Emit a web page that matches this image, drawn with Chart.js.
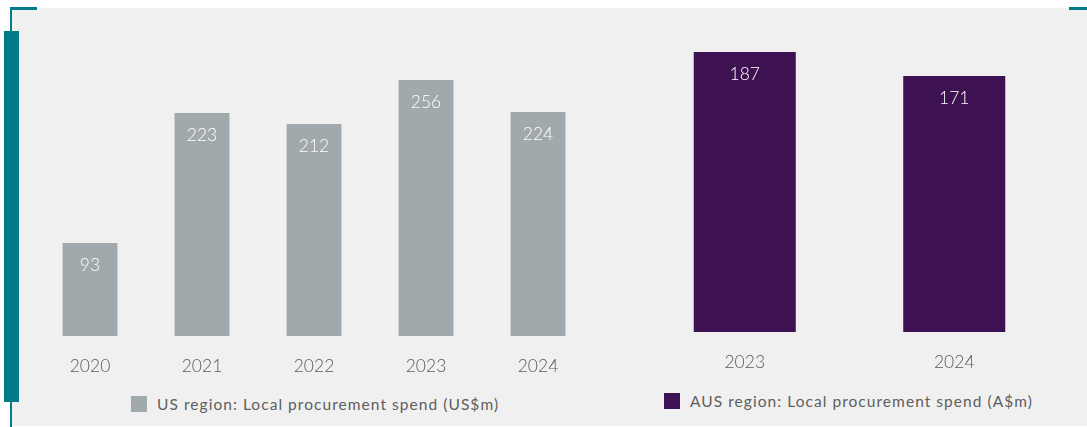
<!DOCTYPE html>
<html>
<head>
<meta charset="utf-8">
<script src="https://cdn.jsdelivr.net/npm/chart.js@4"></script>
<style>
  html, body { margin: 0; padding: 0; background: #fff; }
  body { width: 1087px; height: 427px; position: relative; overflow: hidden; font-family: 'Lato', sans-serif; }
  .panel { position: absolute; left: 11px; top: 8px; width: 1076px; height: 418px; background: #f0f0f0; }
  .teal { position: absolute; background: #007b87; }
  .box { position: absolute; }
  .leyenda { position: absolute; display: flex; align-items: center; font-size: 15.5px; font-weight: 400; color: #5e5e5e; letter-spacing: 1.05px; }
  .leyenda span.sq { width: 16px; height: 16px; margin-right: 10px; display: inline-block; }
</style>
</head>
<body>
<div class="panel"></div>
<div class="teal" style="left:10px; top:7px; width:27px; height:3px;"></div>
<div class="teal" style="left:1069px; top:7px; width:18px; height:3px;"></div>
<div class="teal" style="left:10px; top:8px; width:2px; height:419px;"></div>
<div class="teal" style="left:4px; top:31px; width:15px; height:371px;"></div>

<div class="box" style="left:34px; top:10px; width:560px; height:380px;"><canvas id="graficaUS"></canvas></div>
<div class="box" style="left:640px; top:10px; width:419px; height:376px;"><canvas id="graficaAUS"></canvas></div>

<div class="leyenda" style="left:131px; top:395px;"><span class="sq" style="background:#a2a9ad"></span>US region: Local procurement spend (US$m)</div>
<div class="leyenda" style="left:664px; top:392px;"><span class="sq" style="background:#3d1152"></span>AUS region: Local procurement spend (A$m)</div>

<script>
const aniosUS = ['2020', '2021', '2022', '2023', '2024'];
const gastoUS = [93, 223, 212, 256, 224];
const aniosAUS = ['2023', '2024'];
const gastoAUS = [187, 171];

// valores en blanco dentro de cada barra, cerca del borde superior
const etiquetasBarras = {
  id: 'etiquetasBarras',
  afterDatasetsDraw(chart) {
    const ctx = chart.ctx;
    const meta = chart.getDatasetMeta(0);
    const datos = chart.data.datasets[0].data;
    ctx.save();
    ctx.fillStyle = '#ffffff';
    ctx.font = '300 17.5px Lato, sans-serif';
    ctx.textAlign = 'center';
    ctx.textBaseline = 'middle';
    meta.data.forEach((barra, i) => {
      ctx.fillText(datos[i], barra.x, barra.y + 22);
    });
    ctx.restore();
  }
};

function crearGrafica(id, labels, valores, color, maximo, ancho) {
  const ctx = document.getElementById(id).getContext('2d');
  return new Chart(ctx, {
    type: 'bar',
    data: {
      labels: labels,
      datasets: [{
        data: valores,
        backgroundColor: color,
        categoryPercentage: 1,
        barPercentage: ancho
      }]
    },
    options: {
      responsive: true,
      maintainAspectRatio: false,
      animation: false,
      layout: { padding: 0 },
      plugins: { legend: { display: false }, tooltip: { enabled: false } },
      scales: {
        x: {
          grid: { display: false, drawTicks: false },
          border: { display: false },
          ticks: { color: '#595959', font: { family: 'Lato', size: 17.5, weight: 300 }, padding: 20 },
          afterFit: s => { s.height = 54; }
        },
        y: { display: false, min: 0, max: maximo }
      }
    },
    plugins: [etiquetasBarras]
  });
}

crearGrafica('graficaUS', aniosUS, gastoUS, '#a2a9ad', 326, 0.49);
crearGrafica('graficaAUS', aniosAUS, gastoAUS, '#3d1152', 215, 0.487);
</script>
</body>
</html>
